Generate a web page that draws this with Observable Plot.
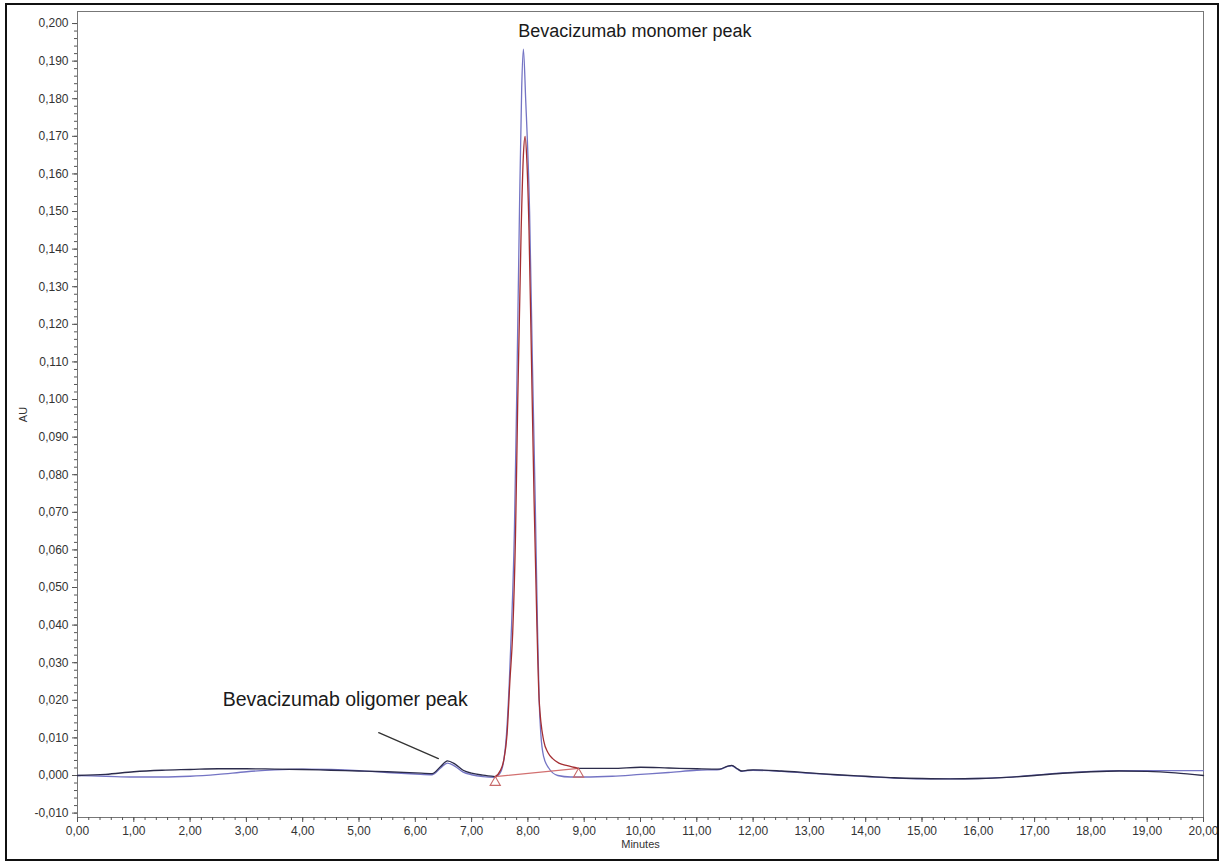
<!DOCTYPE html>
<html>
<head>
<meta charset="utf-8">
<script src="https://cdn.jsdelivr.net/npm/d3@7"></script>
<script src="https://cdn.jsdelivr.net/npm/@observablehq/plot@0.6"></script>
<style>
  html, body { margin: 0; padding: 0; background: #fff; }
  #wrap { position: relative; width: 1220px; height: 862px; overflow: hidden; }
  #wrap svg { position: absolute; left: 0; top: 0; }
  #border { position: absolute; left: 5px; top: 3px; width: 1210px; height: 854px;
            border: 2px solid #111; pointer-events: none; }
</style>
</head>
<body>
<div id="wrap"><div id="border"></div></div>
<script>
// ---- Data ----
// Trace 1 (blue): time in minutes and absorbance (AU)
const blueTime = [0, 0.5, 1.0, 1.5, 2.0, 2.5, 3.0, 3.5, 4.0, 4.5, 5.0, 5.5, 6.0, 6.3, 6.45, 6.57, 6.7, 6.85, 7.0, 7.2, 7.4,
  7.5, 7.56, 7.62, 7.67, 7.71, 7.76, 7.80, 7.85, 7.89, 7.92, 7.96, 8.03, 8.08, 8.13, 8.17, 8.20, 8.23, 8.28, 8.37, 8.53, 8.76,
  9.0, 9.5, 10.0, 10.5, 11.0, 11.4, 11.55, 11.62, 11.72, 11.8, 11.9, 12.0, 12.5, 13.0, 13.5, 14.0, 14.5, 15.0, 15.5, 16.0,
  16.5, 17.0, 17.5, 18.0, 18.5, 19.0, 19.5, 20.0];
const blueAU = [0.0000, -0.0002, -0.0004, -0.0004, -0.0002, 0.0003, 0.0010, 0.0015, 0.0017, 0.0016, 0.0013, 0.0008, 0.0004, 0.0002, 0.0020, 0.0033, 0.0025, 0.0009, 0.0002, -0.0003, -0.0005,
  0.0005, 0.0030, 0.0110, 0.0250, 0.0400, 0.0650, 0.1000, 0.1500, 0.1830, 0.1932, 0.1800, 0.1500, 0.1100, 0.0730, 0.0400, 0.0200, 0.0110, 0.0050, 0.0020, 0.0000, -0.0004,
  -0.0004, -0.0002, 0.0003, 0.0008, 0.0014, 0.0016, 0.0024, 0.0026, 0.0017, 0.0011, 0.0013, 0.0014, 0.0011, 0.0006, 0.0001, -0.0003, -0.0007, -0.0009, -0.0009, -0.0008,
  -0.0005, 0.0001, 0.0007, 0.0011, 0.0013, 0.0013, 0.0013, 0.0013];

// Trace 2 (dark, integrated peak drawn in red)
const darkTime = [0, 0.5, 1.0, 1.5, 2.0, 2.5, 3.0, 3.5, 4.0, 4.5, 5.0, 5.5, 6.0, 6.3, 6.45, 6.57, 6.7, 6.85, 7.0, 7.2, 7.42,
  7.51, 7.57, 7.63, 7.68, 7.73, 7.78, 7.82, 7.88, 7.92, 7.95, 7.98, 8.02, 8.07, 8.11, 8.16, 8.20, 8.28, 8.36, 8.44, 8.55, 8.70, 8.90,
  9.5, 10.0, 10.5, 11.0, 11.4, 11.55, 11.62, 11.72, 11.8, 11.9, 12.0, 12.5, 13.0, 13.5, 14.0, 14.5, 15.0, 15.5, 16.0,
  16.5, 17.0, 17.5, 18.0, 18.5, 19.0, 19.5, 20.0];
const darkAU = [0.0000, 0.0003, 0.0010, 0.0014, 0.0016, 0.0018, 0.0018, 0.0017, 0.0016, 0.0014, 0.0012, 0.0010, 0.0007, 0.0005, 0.0024, 0.0039, 0.0031, 0.0014, 0.0006, 0.0001, -0.0003,
  0.0013, 0.0040, 0.0110, 0.0250, 0.0380, 0.0640, 0.1000, 0.1450, 0.1650, 0.1700, 0.1640, 0.1450, 0.1050, 0.0730, 0.0400, 0.0200, 0.0093, 0.0060, 0.0045, 0.0033, 0.0026, 0.0019,
  0.0019, 0.0022, 0.0020, 0.0018, 0.0017, 0.0025, 0.0027, 0.0018, 0.0012, 0.0014, 0.0015, 0.0012, 0.0007, 0.0002, -0.0002, -0.0006, -0.0008, -0.0009, -0.0008,
  -0.0005, 0.0000, 0.0006, 0.0010, 0.0012, 0.0011, 0.0007, 0.0000];

// Integration baseline (start / end markers)
const integTime = [7.42, 8.90];
const integAU = [-0.0003, 0.0019];

// Annotations
const monomerLabel = "Bevacizumab monomer peak";
const monomerAt = [7.83, 0.1965];
const oligomerLabel = "Bevacizumab oligomer peak";
const oligomerAt = [2.58, 0.0184];
const leaderTime = [5.35, 6.41];
const leaderAU = [0.0114, 0.0045];

// Axes
const xTicks = d3.range(0, 21, 1);
const xMinor = d3.range(0, 101, 1).map(i => i * 0.2);
const yTicks = d3.range(-1, 21, 1).map(i => i / 100);
const yMinor = d3.range(-5, 101, 1).map(i => i / 500);
const xDomain = [0, 20];
const yDomain = [-0.01117, 0.2032];

// ---- Build tables ----
const blue = blueTime.map((t, i) => ({t, v: blueAU[i]}));
const dark = [];
darkTime.forEach((t, i) => {
  const v = darkAU[i];
  if (t <= integTime[0]) dark.push({t, v, seg: "pre"});
  if (t >= integTime[0] && t <= integTime[1]) dark.push({t, v, seg: "peak"});
  if (t >= integTime[1]) dark.push({t, v, seg: "post"});
});
const integ = integTime.map((t, i) => ({t, v: integAU[i]}));
const leader = leaderTime.map((t, i) => ({t, v: leaderAU[i]}));

const fmtY = d => d.toFixed(3).replace(".", ",");
const fmtX = d => d.toFixed(2).replace(".", ",");
const font = "'Liberation Sans', Arial, sans-serif";
const axisColor = "#555";

const chart = Plot.plot({
  width: 1220,
  height: 862,
  marginLeft: 77,
  marginRight: 17,
  marginTop: 11,
  marginBottom: 45,
  style: {fontFamily: font, fontSize: "12px", background: "transparent", color: "#333"},
  x: {domain: xDomain},
  y: {domain: yDomain},
  marks: [
    Plot.frame({stroke: "#777", strokeWidth: 1}),
    Plot.axisY({ticks: yMinor, tickSize: 3, tickFormat: () => "", label: null, stroke: axisColor}),
    Plot.axisY({ticks: yTicks, tickSize: 5, tickPadding: 4, tickFormat: fmtY, label: null, fontSize: 12, stroke: axisColor, fill: "#333"}),
    Plot.axisX({ticks: xMinor, tickSize: 3, tickFormat: () => "", label: null, stroke: axisColor}),
    Plot.axisX({ticks: xTicks, tickSize: 5, tickPadding: 4, tickFormat: fmtX, label: null, fontSize: 12, stroke: axisColor, fill: "#333"}),
    Plot.text(["Minutes"], {frameAnchor: "bottom", dy: 27, fontSize: 11, fill: "#333", lineAnchor: "middle"}),
    Plot.text(["AU"], {frameAnchor: "left", dx: -54, rotate: -90, fontSize: 11, fill: "#333", textAnchor: "middle"}),
    Plot.line(blue, {x: "t", y: "v", stroke: "#7474c4", strokeWidth: 1.3, curve: "monotone-x"}),
    Plot.line(integ, {x: "t", y: "v", stroke: "#d27070", strokeWidth: 1.1}),
    Plot.line(dark, {x: "t", y: "v", z: "seg", stroke: d => d.seg === "peak" ? "#a42e32" : "#2c2c4c",
      strokeWidth: 1.3, curve: "monotone-x"}),
    Plot.dot(integ, {x: "t", y: "v", symbol: "triangle", r: 3.8, dy: 5.8, stroke: "#c86a6a", fill: "none", strokeWidth: 1.1}),
    Plot.line(leader, {x: "t", y: "v", stroke: "#333", strokeWidth: 1.3}),
    Plot.text([monomerLabel], {x: () => monomerAt[0], y: () => monomerAt[1], textAnchor: "start", lineAnchor: "bottom", fontSize: 18, fill: "#1a1a1a"}),
    Plot.text([oligomerLabel], {x: () => oligomerAt[0], y: () => oligomerAt[1], textAnchor: "start", lineAnchor: "bottom", fontSize: 19.5, fill: "#1a1a1a"})
  ]
});
document.getElementById("wrap").insertBefore(chart, document.getElementById("border"));
</script>
</body>
</html>
